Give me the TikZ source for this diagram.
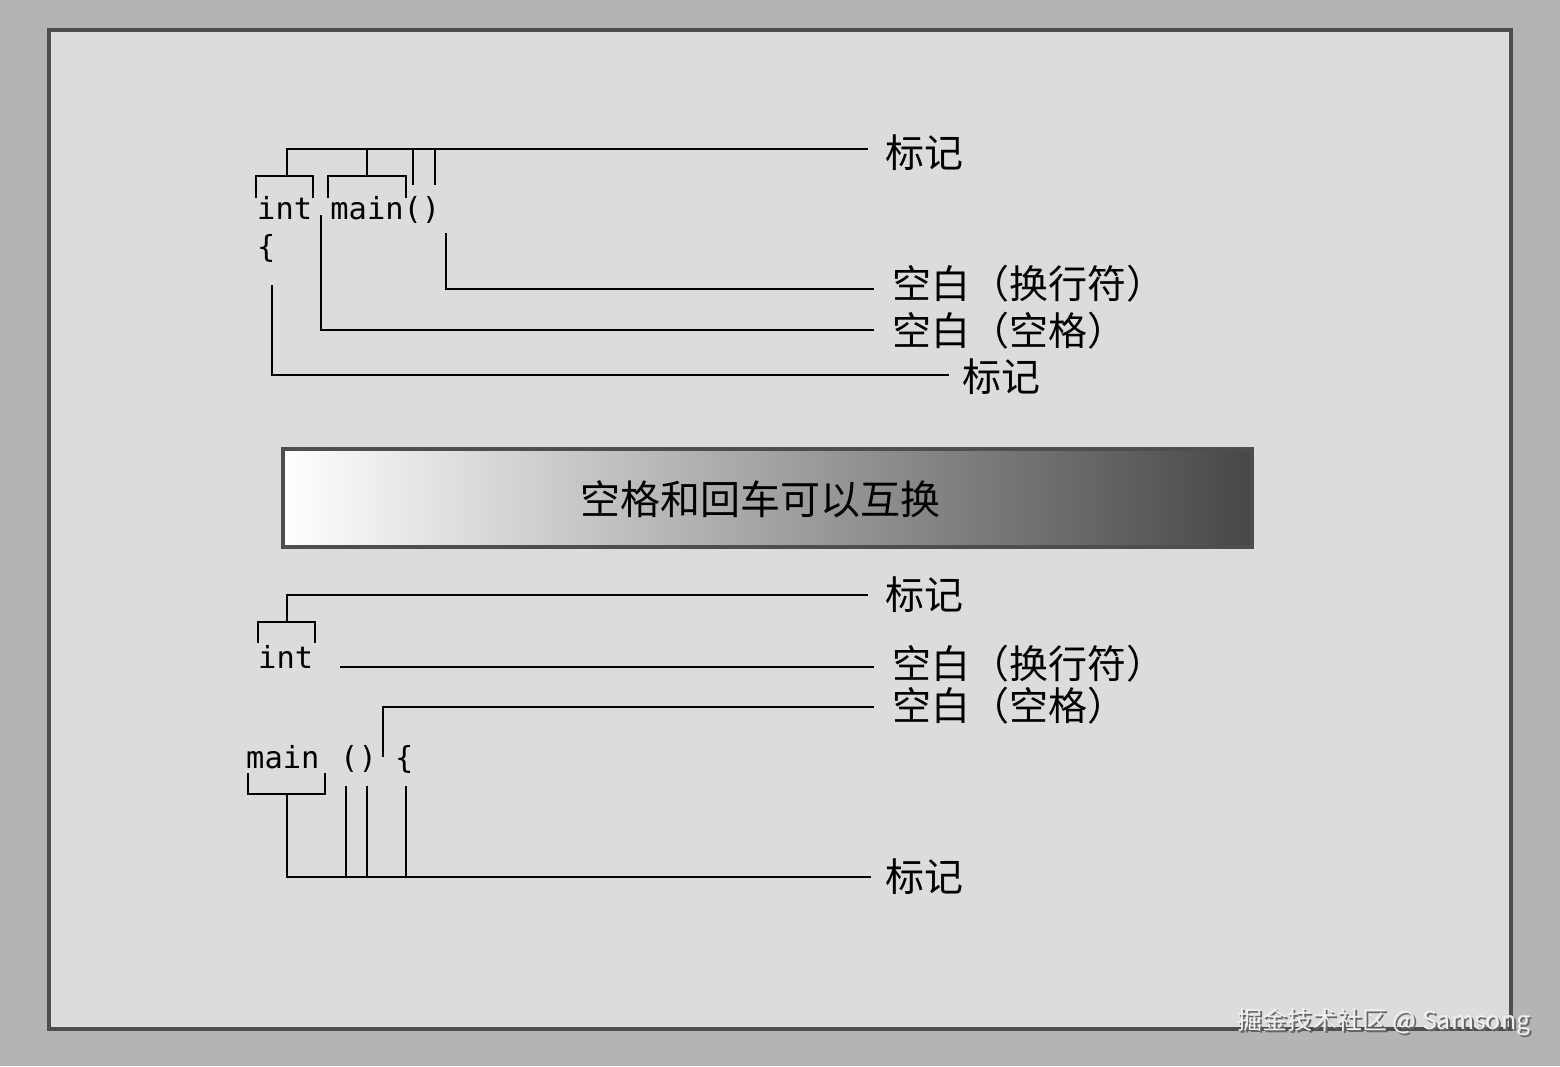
\documentclass[tikz,border=0pt]{standalone}
\usepackage{fontspec}
\setmonofont{DejaVu Sans Mono}
\newfontfamily\cjk{Noto Sans CJK SC}
\definecolor{outerbg}{HTML}{B4B4B4}
\definecolor{panelbg}{HTML}{DCDCDC}
\definecolor{frameclr}{HTML}{4E4E4E}
\definecolor{barend}{HTML}{474747}
\begin{document}
\begin{tikzpicture}[x=1pt,y=-1pt,
  conn/.style={line width=2.6pt,line cap=rect,line join=miter},
  code/.style={inner sep=0pt,anchor=base west,font=\fontsize{30.4}{30.4}\selectfont\ttfamily},
  lab/.style={inner sep=0pt,anchor=west,font=\fontsize{39}{39}\selectfont\cjk},
  wm/.style={inner sep=0pt,anchor=west,font=\fontsize{25}{25}\selectfont\cjk,text=white!94!black}]
% background and panel
\fill[outerbg] (0,0) rectangle (1560,1066);
\useasboundingbox (0,0) rectangle (1560,1066);
\filldraw[fill=panelbg,draw=frameclr,line width=4pt] (49,30) rectangle (1511,1029);
% gradient bar
\shade[left color=white,right color=barend] (283,449) rectangle (1252,547);
\draw[frameclr,line width=4pt] (283,449) rectangle (1252,547);
\node[lab,anchor=center,font=\fontsize{40}{40}\selectfont\cjk] (swap) at (760,499) {空格和回车可以互换};

% ---------- top example ----------
\node[code] (l1) at (257,219) {int main()};
\node[code] (l2) at (257,257) {\{};
\node[lab] (t1) at (885,153) {标记};
\node[lab] (t2) at (892,284) {空白（换行符）};
\node[lab] (t3) at (892,331) {空白（空格）};
\node[lab] (t4) at (962,377) {标记};
% token bracket
\coordinate (a0) at (287,149);
\coordinate (a1) at (867,149);
\draw[conn] (a0) -- (a1);
\draw[conn] (287,149) -- (287,176);
\draw[conn] (367,149) -- (367,176);
\draw[conn] (413,149) -- (413,184);
\draw[conn] (435,149) -- (435,184);
\draw[conn] (256,197) -- (256,176) -- (313,176) -- (313,197);
\draw[conn] (328,197) -- (328,176) -- (406,176) -- (406,197);
% newline
\coordinate (n0) at (446,234);
\coordinate (n1) at (873,289);
\draw[conn] (n0) |- (n1);
% space
\coordinate (s0) at (321,216);
\coordinate (s1) at (873,330);
\draw[conn] (s0) |- (s1);
% brace
\coordinate (b0) at (272,286);
\coordinate (b1) at (948,375);
\draw[conn] (b0) |- (b1);

% ---------- bottom example ----------
\node[code] (m1) at (258,668) {int};
\node[code] (m2) at (246,768) {main};
\node[code] (m3) at (340,768) {()};
\node[code] (m4) at (395,768) {\{};
\node[lab] (u1) at (885,595) {标记};
\node[lab] (u2) at (892,664) {空白（换行符）};
\node[lab] (u3) at (892,706) {空白（空格）};
\node[lab] (u4) at (885,877) {标记};
% int token
\coordinate (c0) at (287,622);
\coordinate (c1) at (867,595);
\draw[conn] (c0) |- (c1);
\draw[conn] (258,642) -- (258,622) -- (315,622) -- (315,642);
% newline
\coordinate (d0) at (341,667);
\coordinate (d1) at (873,667);
\draw[conn] (d0) -- (d1);
% space
\coordinate (e0) at (383,756);
\coordinate (e1) at (873,707);
\draw[conn] (e0) |- (e1);
% main token
\draw[conn] (248,774) -- (248,794) -- (325,794) -- (325,774);
\coordinate (f0) at (287,794);
\coordinate (f1) at (870,877);
\draw[conn] (f0) |- (f1);
\draw[conn] (346,787) -- (346,877);
\draw[conn] (367,787) -- (367,877);
\draw[conn] (406,787) -- (406,877);

% watermark
\node[wm,text=black!60] at (1239,1024) {掘金技术社区 @ Samsong};
\node[wm] (wmk) at (1237,1022) {掘金技术社区 @ Samsong};
\end{tikzpicture}
\end{document}
